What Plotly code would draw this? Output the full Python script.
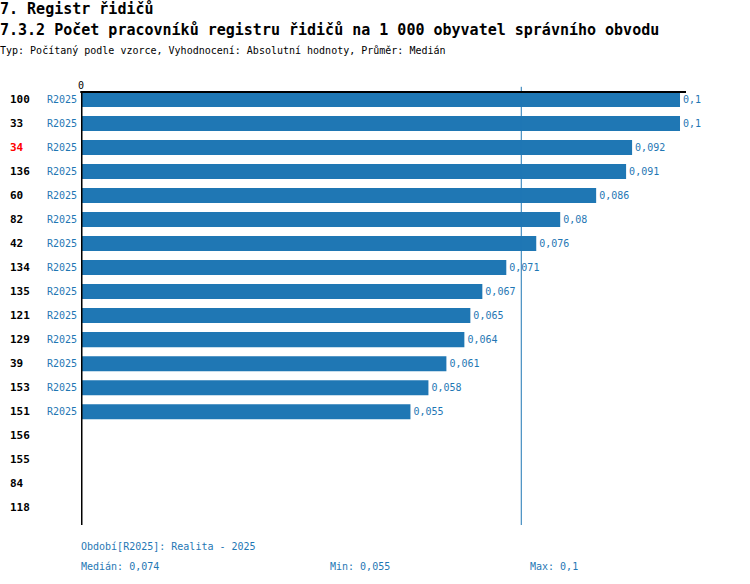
import numpy as np
import plotly.graph_objects as go
from decimal import Decimal, ROUND_HALF_UP

# obvody (poradi odshora), obdobi a hodnoty
obvody = ["100", "33", "34", "136", "60", "82", "42", "134", "135", "121",
          "129", "39", "153", "151", "156", "155", "84", "118"]
zvyrazneny = "34"
obdobi = "R2025"
hodnoty = [0.1, 0.1, 0.092, 0.091, 0.086, 0.08, 0.076, 0.071, 0.067, 0.065,
           0.064, 0.061, 0.058, 0.055]

BLUE = "#1f77b4"
FONT = "DejaVu Sans Mono"
L = 81  # levy okraj grafu v px


def cz(v):
    s = str(Decimal(str(v)).quantize(Decimal("0.001"), rounding=ROUND_HALF_UP))
    s = s.rstrip("0").rstrip(".")
    return s.replace(".", ",")


pos = list(range(len(obvody)))
pos_val = pos[:len(hodnoty)]
median = float(np.median(hodnoty))

fig = go.Figure()
fig.add_bar(
    x=hodnoty,
    y=pos_val,
    orientation="h",
    marker=dict(color=BLUE, line=dict(width=0)),
    width=0.625,
    text=[cz(v) for v in hodnoty],
    textposition="outside",
    textfont=dict(family=FONT, size=10, color=BLUE),
    cliponaxis=False,
    hoverinfo="skip",
)

# popisky obvodu vlevo
for p, o in zip(pos, obvody):
    fig.add_annotation(
        x=0, xref="paper", xshift=8 - L, y=p, yref="y", text="<b>%s</b>" % o,
        showarrow=False, xanchor="left",
        font=dict(family=FONT, size=11, color="red" if o == zvyrazneny else "black"),
    )
for p in pos_val:
    fig.add_annotation(
        x=0, xref="paper", xshift=-2, y=p, yref="y", text=obdobi,
        showarrow=False, xanchor="right",
        font=dict(family=FONT, size=10, color=BLUE),
    )

# median
fig.add_shape(type="line", x0=median, x1=median, xref="x", y0=0, y1=1.012,
              yref="paper", line=dict(color=BLUE, width=1))
# horni osa
fig.add_shape(type="line", x0=-0.0012, x1=1, xref="x domain", y0=1, y1=1,
              yref="paper", line=dict(color="black", width=2))
fig.add_shape(type="line", x0=0, x1=0, xref="x", y0=0, y1=1,
              yref="paper", line=dict(color="black", width=3))

# titulky
titles = [
    ("7. Registr řidičů", 9, 15, True),
    ("7.3.2 Počet pracovníků registru řidičů na 1 000 obyvatel správního obvodu", 30, 15, True),
    ("Typ: Počítaný podle vzorce, Vyhodnocení: Absolutní hodnoty, Průměr: Medián", 50, 10, False),
]
for t, ypx, sz, b in titles:
    fig.add_annotation(
        x=0, xref="paper", xshift=-L - 2, y=1, yref="paper", yshift=92 - ypx,
        text="<b>%s</b>" % t if b else t, showarrow=False,
        xanchor="left", yanchor="middle",
        font=dict(family=FONT, size=sz, color="black"),
    )

# paticka
footer = [
    ("Období[%s]: Realita - 2025" % obdobi, 79, 546),
    ("Medián: %s" % cz(median), 79, 566),
    ("Min: %s" % cz(min(hodnoty)), 328, 566),
    ("Max: %s" % cz(max(hodnoty)), 528, 566),
]
for t, xpx, ypx in footer:
    fig.add_annotation(
        x=0, xref="paper", xshift=xpx - L, y=0, yref="paper", yshift=525 - ypx,
        text=t, showarrow=False, xanchor="left", yanchor="middle",
        font=dict(family=FONT, size=10, color=BLUE),
    )

fig.update_layout(
    width=750, height=584,
    margin=dict(l=L, r=64, t=92, b=59),
    plot_bgcolor="white", paper_bgcolor="white",
    showlegend=False,
    font=dict(family=FONT, size=10, color="black"),
    xaxis=dict(range=[0, 0.101], side="top", tickvals=[0], ticktext=["0"],
               showgrid=False, zeroline=False, showline=False, ticks="",
               tickfont=dict(family=FONT, size=10, color="black")),
    yaxis=dict(range=[17.72, -0.3125], showticklabels=False, showgrid=False,
               zeroline=False, showline=False, ticks=""),
)

fig.write_html("out.html", config={"displayModeBar": False},
               post_script="document.body.style.margin='0';")
